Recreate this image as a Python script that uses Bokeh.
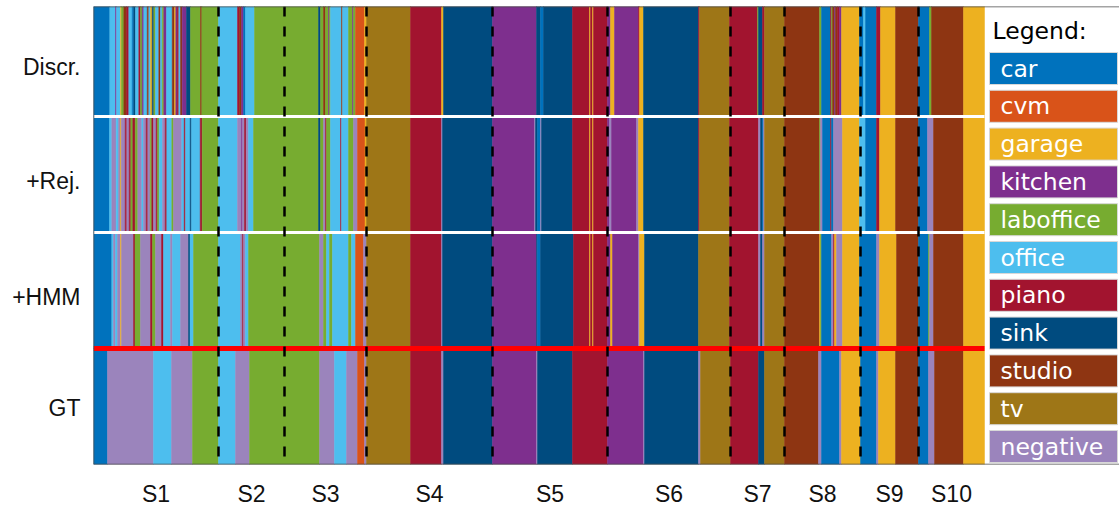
from bokeh.plotting import figure
from bokeh.models import ColumnDataSource, Range1d, FixedTicker, Span
from bokeh.embed import file_html
from bokeh.resources import INLINE
from bokeh.core.properties import value

# ---------------- data ----------------
classes = ["car", "cvm", "garage", "kitchen", "laboffice", "office",
           "piano", "sink", "studio", "tv", "negative"]
class_colors = ["#0072BD", "#D95319", "#EDB120", "#7E2F8E", "#77AC30", "#4DBEEE",
                "#A2142F", "#004B7F", "#8E3512", "#9E7617", "#9B84BC"]

row_names = ["GT", "+HMM", "+Rej.", "Discr."]
session_names = ["S1", "S2", "S3", "S4", "S5", "S6", "S7", "S8", "S9", "S10"]
session_bounds = [0, 125, 191, 273, 399, 514, 637, 691, 767, 825, 891]

gt_labels = ["car", "negative", "office", "negative", "laboffice", "office", "negative",
             "laboffice", "negative", "office", "negative", "cvm", "negative", "tv", "piano",
             "negative", "sink", "kitchen", "negative", "sink", "piano", "kitchen", "negative",
             "sink", "negative", "tv", "piano", "sink", "tv", "studio", "negative", "car",
             "negative", "garage", "car", "negative", "garage", "studio", "car", "negative",
             "studio", "garage"]
gt_ends = [14, 60, 78, 99, 125, 142, 156, 226, 241, 253, 264, 271, 273, 317, 348,
           350, 399, 443, 444, 479, 514, 550, 551, 605, 607, 637, 665, 671, 691, 725,
           728, 746, 748, 767, 783, 785, 802, 825, 835, 841, 870, 891]

hmm_labels = ["car", "office", "negative", "office", "negative", "garage", "negative",
              "piano", "laboffice", "negative", "piano", "laboffice", "negative", "piano",
              "office", "negative", "office", "negative", "sink", "office", "laboffice",
              "office", "negative", "piano", "negative", "office", "laboffice", "negative",
              "laboffice", "office", "laboffice", "office", "laboffice", "office", "cvm",
              "negative", "tv", "piano", "negative", "sink", "kitchen", "sink", "car", "sink",
              "piano", "garage", "piano", "garage", "piano", "kitchen", "garage", "kitchen",
              "negative", "garage", "sink", "tv", "piano", "negative", "sink", "negative",
              "tv", "studio", "garage", "laboffice", "car", "negative", "piano", "garage",
              "negative", "garage", "car", "negative", "garage", "studio", "car", "laboffice",
              "negative", "studio", "garage"]
hmm_ends = [18.3, 20, 22, 24, 27, 28, 40, 41.5, 47, 57, 59, 62, 68, 70,
            77, 79, 87, 95, 96.5, 100, 125,
            147, 149, 150, 152, 155, 226, 230,
            233, 236, 239, 255, 258, 262, 270,
            273, 317, 348, 349, 399, 443, 444, 447, 480,
            496, 497, 499, 500, 514, 517, 519, 545,
            546, 551, 605, 636, 665, 667, 669, 671,
            691, 726, 727, 728, 738, 740, 741, 743,
            749, 766, 783, 786, 803, 825, 835, 836,
            840, 870, 891]

rej_labels = ["car", "office", "negative", "office", "negative", "garage", "negative",
              "piano", "negative", "piano", "laboffice", "piano", "laboffice", "negative",
              "office", "negative", "piano", "negative", "laboffice", "piano", "negative",
              "piano", "laboffice", "office", "negative", "piano", "office", "laboffice",
              "negative", "office", "piano", "office", "sink", "office", "piano", "laboffice",
              "office", "negative", "kitchen", "negative", "piano", "negative", "office",
              "laboffice", "sink", "laboffice", "negative", "piano", "laboffice", "office",
              "piano", "office", "laboffice", "negative", "cvm", "garage",
              "tv", "piano", "negative", "sink", "kitchen", "negative", "sink", "car",
              "negative", "sink", "piano", "garage", "piano", "garage", "piano", "kitchen",
              "negative", "kitchen", "negative", "garage", "sink", "piano", "tv", "piano",
              "negative", "sink", "car", "negative", "tv", "studio", "laboffice", "negative",
              "car", "piano", "car", "negative", "garage", "office", "car", "piano", "garage",
              "studio", "car", "negative", "studio", "garage"]
rej_ends = [16, 18.3, 22.7, 25, 26.7, 27.7, 31.7,
            33.3, 35.7, 37.3, 39.3, 41.7, 44.3, 48.3,
            50, 52.7, 54.3, 56.7, 58.3, 60, 62.7,
            64, 65.7, 69, 71.7, 73.3, 78.3, 80,
            88.3, 90.7, 92, 96.7, 98, 106.7, 108.7, 125,
            144, 148, 149, 151, 152.7, 155, 160,
            225, 227, 230, 232, 233, 237, 247,
            248, 255, 260, 264, 271.5, 273,
            317, 348, 349, 399, 441, 442, 444, 447,
            448, 479, 496, 497, 499, 500, 514, 516,
            518, 543, 545, 550, 605, 606, 636, 665,
            667, 669, 670, 671, 691, 726, 727, 729,
            737, 738, 740, 749, 766, 772, 783, 786, 802,
            825, 834, 840, 870, 891]

discr_labels = ["car", "office", "kitchen", "office", "garage", "laboffice", "studio",
                "piano", "office", "car", "sink", "office", "piano", "laboffice", "kitchen",
                "office", "studio", "office", "garage", "sink", "laboffice", "office",
                "studio", "office", "laboffice", "kitchen", "office", "studio", "garage",
                "kitchen", "piano", "office", "studio", "kitchen", "sink", "laboffice",
                "studio", "laboffice",
                "office", "piano", "studio", "kitchen", "car", "office", "laboffice", "sink",
                "laboffice", "studio", "laboffice", "kitchen", "laboffice", "office",
                "studio", "office", "laboffice", "kitchen", "laboffice", "cvm", "garage",
                "tv", "piano", "garage", "sink", "kitchen", "sink", "car", "sink", "piano",
                "garage", "piano", "garage", "piano", "kitchen", "garage", "kitchen", "piano",
                "garage", "sink", "piano", "tv", "piano", "laboffice", "sink", "piano", "tv",
                "studio", "laboffice", "car", "piano", "laboffice", "studio", "kitchen",
                "studio", "piano", "kitchen", "garage", "car", "office", "car", "piano",
                "garage", "studio", "car", "laboffice", "studio", "garage"]
discr_ends = [16.3, 22, 23, 27, 28, 30.3, 33,
              35.3, 38.7, 40.3, 42, 45.3, 47, 48.7, 50.3,
              53.7, 55.3, 57, 58.7, 60.3, 62, 65.3,
              67, 68.7, 70.3, 73, 78.7, 81, 82.3,
              83.7, 85.3, 87, 88.7, 93, 97, 107,
              108.3, 125,
              144, 146, 148, 150, 152, 161, 225, 227,
              230, 232, 235, 236, 237, 248,
              249, 255, 259, 260, 262, 271, 273,
              317, 348, 350, 399, 443, 447, 450, 479, 496,
              497, 499, 500, 514, 517, 521, 545, 546,
              550, 605, 606, 636, 664, 665, 669, 671, 691,
              726, 728, 737, 738, 739, 741, 742,
              744, 746, 748, 766, 770, 772, 783, 787,
              802, 825, 836, 838, 870, 891]

rows = [(gt_labels, gt_ends), (hmm_labels, hmm_ends),
        (rej_labels, rej_ends), (discr_labels, discr_ends)]

# ---------------- layout constants ----------------
PX = 116.0                  # pixels per row
FIG_W, FIG_H = 1119, 509
FRAME_TOP, FRAME_BOTTOM_PX, FRAME_LEFT = 6, 464, 93
FRAME_H = FRAME_BOTTOM_PX - FRAME_TOP
FRAME_W = FIG_W - FRAME_LEFT
Y_END = FRAME_H / PX
total_len = session_bounds[-1]
cmap = dict(zip(classes, class_colors))

p = figure(width=FIG_W, height=FIG_H, output_backend="svg", toolbar_location=None,
           x_range=Range1d(0, FRAME_W), y_range=Range1d(0, Y_END),
           min_border_left=FRAME_LEFT, min_border_right=0, min_border_top=FRAME_TOP,
           min_border_bottom=FIG_H - FRAME_BOTTOM_PX)
p.outline_line_color = None
p.xgrid.visible = False
p.ygrid.visible = False
p.background_fill_color = "white"
p.border_fill_color = "white"

# ---------------- segments ----------------
L, R, B, T, C = [], [], [], [], []
for i, (labs, ends) in enumerate(rows):
    starts = [0] + list(ends[:-1])
    for lab, s, e in zip(labs, starts, ends):
        L.append(s); R.append(e); B.append(i); T.append(i + 1 if i < 3 else Y_END + 0.1)
        C.append(cmap[lab])
seg_src = ColumnDataSource(dict(left=L, right=R, bottom=B, top=T, color=C))
p.quad(left="left", right="right", bottom="bottom", top="top", source=seg_src,
       fill_color="color", line_color="color", line_width=0.5)

# row separators
p.segment(x0=[0, 0], x1=[total_len, total_len], y0=[2, 3], y1=[2, 3],
          line_color="white", line_width=3)
p.segment(x0=[0], x1=[total_len], y0=[1], y1=[1], line_color="#FF0000", line_width=5)

# session dashed boundaries
inner = session_bounds[1:-1]
p.segment(x0=inner, x1=inner, y0=[Y_END] * len(inner), y1=[0] * len(inner),
          line_color="black", line_width=2.5, line_dash="10 10")

# axes borders
for sp in [Span(location=0, dimension="width"), Span(location=Y_END, dimension="width"),
           Span(location=0, dimension="height")]:
    sp.line_color = "#4a4a4a"
    sp.line_width = 1.5
    p.add_layout(sp)

# ---------------- legend ----------------
leg_x0 = total_len + 5
leg_x1 = FRAME_W - 2
leg_top_center = (FRAME_BOTTOM_PX - 68) / PX
leg_step = 37.8 / PX
leg_h = 32 / PX
leg_y = [leg_top_center - k * leg_step for k in range(len(classes))]
p.quad(left=leg_x0, right=leg_x1, bottom=[y - leg_h / 2 for y in leg_y],
       top=[y + leg_h / 2 for y in leg_y], fill_color=class_colors,
       line_color="#d8d8d8", line_width=1)
p.text(x=leg_x0 + 11, y=leg_y, text=classes, text_color="white",
       text_font=value("DejaVu Sans"), text_font_size="23.5px", text_baseline="middle")
p.text(x=[leg_x0 + 3], y=[(FRAME_BOTTOM_PX - 30) / PX], text=["Legend:"], text_color="black",
       text_font=value("DejaVu Sans"), text_font_size="23.5px", text_baseline="middle")

# ---------------- axes labels ----------------
row_ticks = [0.483, 1.448, 2.44, 3.431]
p.yaxis.ticker = FixedTicker(ticks=row_ticks)
p.yaxis.major_label_overrides = {t: n for t, n in zip(row_ticks, row_names)}

centers = [(a + b) / 2 for a, b in zip(session_bounds[:-1], session_bounds[1:])]
p.xaxis.ticker = FixedTicker(ticks=centers)
p.xaxis.major_label_overrides = {c: n for c, n in zip(centers, session_names)}
p.xaxis.major_label_standoff = 16

for ax in (p.xaxis, p.yaxis):
    ax.axis_line_color = None
    ax.major_tick_line_color = None
    ax.minor_tick_line_color = None
    ax.major_tick_out = 0
    ax.major_tick_in = 0
    ax.major_label_text_font = "Liberation Sans"
    ax.major_label_text_font_size = "23px"
    ax.major_label_text_color = "#111111"
p.yaxis.major_label_standoff = 13

open("out.html", "w").write(file_html(p, INLINE))
